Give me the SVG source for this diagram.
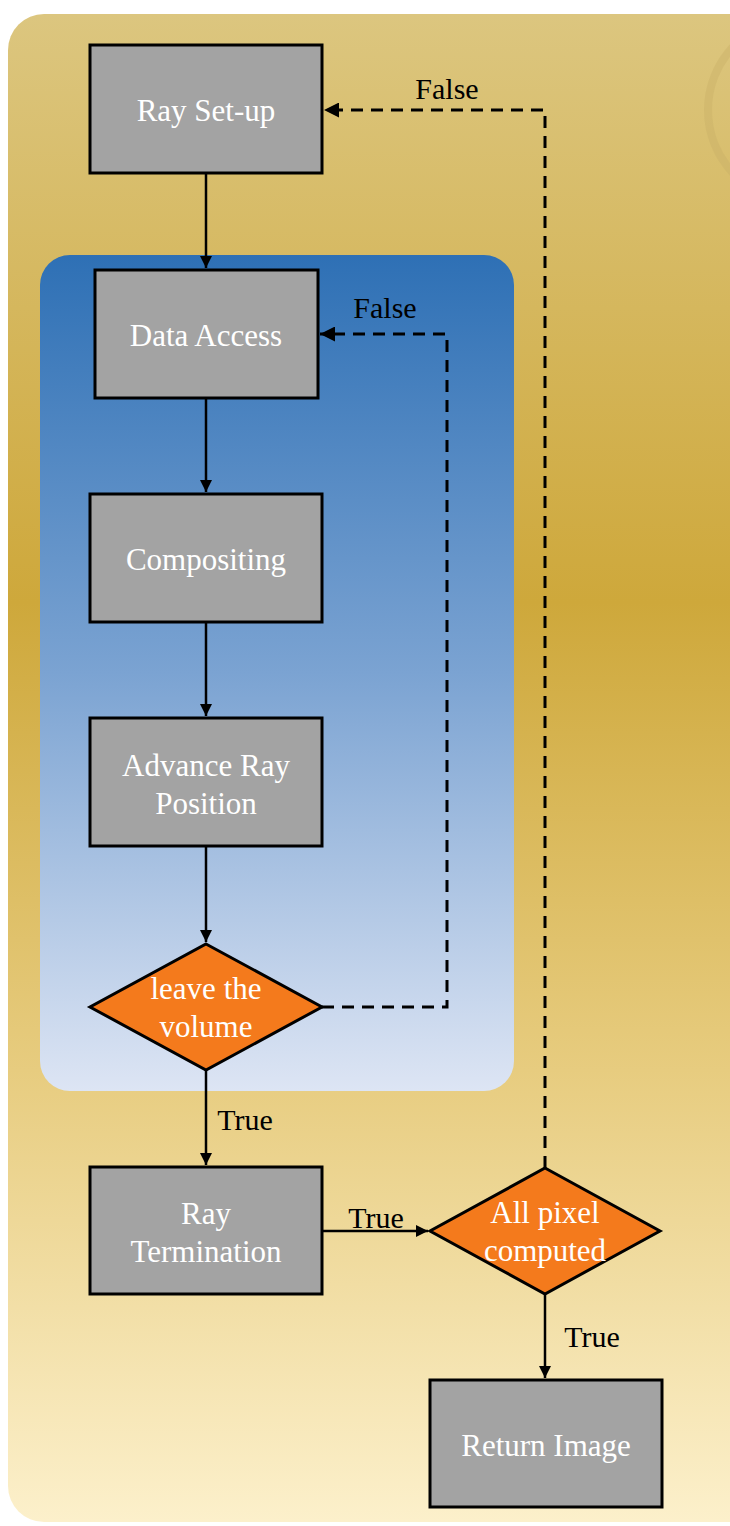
<svg xmlns="http://www.w3.org/2000/svg" width="730" height="1526" viewBox="0 0 730 1526">
<defs>
<linearGradient id="bg" x1="0" y1="0" x2="0" y2="1">
<stop offset="0" stop-color="#dcc67f"/>
<stop offset="0.39" stop-color="#cea83b"/>
<stop offset="0.7" stop-color="#e7cc7f"/>
<stop offset="1" stop-color="#fcf0cb"/>
</linearGradient>
<linearGradient id="panel" x1="0" y1="0" x2="0" y2="1">
<stop offset="0" stop-color="#2e70b5"/>
<stop offset="0.5" stop-color="#7ba3d2"/>
<stop offset="1" stop-color="#dde5f4"/>
</linearGradient>
<marker id="arr" viewBox="0 0 10 10" refX="10" refY="5" markerWidth="5" markerHeight="5" orient="auto" markerUnits="strokeWidth">
<path d="M0,0 L10,5 L0,10 z" fill="#000"/>
</marker>
<style>
.box{fill:#a3a3a3;stroke:#000;stroke-width:3}
.dia{fill:#f47a1c;stroke:#000;stroke-width:3}
.t{font-family:"Liberation Serif",serif;font-size:31px;fill:#fff;text-anchor:middle}
.lbl{font-family:"Liberation Serif",serif;font-size:30px;fill:#000;text-anchor:middle}
.c{fill:none;stroke:#000;stroke-width:2.5}
.d{fill:none;stroke:#000;stroke-width:3;stroke-dasharray:12 8}
</style>
</defs>
<rect x="0" y="0" width="730" height="1526" fill="#fff"/>
<rect x="8" y="14" width="760" height="1508" rx="36" fill="url(#bg)"/>
<circle cx="800" cy="110" r="92" fill="none" stroke="#c9b067" stroke-opacity="0.4" stroke-width="8"/>
<rect id="loop-panel" x="40" y="255" width="474" height="836" rx="30" fill="url(#panel)"/>
<g id="connectors">
<path class="c" d="M206,173 V268" marker-end="url(#arr)"/>
<path class="c" d="M206,398 V492" marker-end="url(#arr)"/>
<path class="c" d="M206,622 V716" marker-end="url(#arr)"/>
<path class="c" d="M206,846 V942" marker-end="url(#arr)"/>
<path class="c" d="M206,1070 V1165" marker-end="url(#arr)"/>
<path class="c" d="M322,1231 H428" marker-end="url(#arr)"/>
<path class="c" d="M545,1294 V1378" marker-end="url(#arr)"/>
<path class="d" d="M322,1007 H447 V334 H320" marker-end="url(#arr)"/>
<path class="d" d="M545,1168 V110 H324" marker-end="url(#arr)"/>
<text class="lbl" x="245" y="1130">True</text>
<text class="lbl" x="376" y="1228">True</text>
<text class="lbl" x="592" y="1347">True</text>
<text class="lbl" x="385" y="318">False</text>
<text class="lbl" x="447" y="99">False</text>
</g>
<g id="ray-setup"><rect class="box" x="90" y="45" width="232" height="128"/><text class="t" x="206" y="121">Ray Set-up</text></g>
<g id="data-access"><rect class="box" x="95" y="270" width="223" height="128"/><text class="t" x="206" y="346">Data Access</text></g>
<g id="compositing"><rect class="box" x="90" y="494" width="232" height="128"/><text class="t" x="206" y="570">Compositing</text></g>
<g id="advance-ray"><rect class="box" x="90" y="718" width="232" height="128"/><text class="t" x="206" y="776">Advance Ray</text><text class="t" x="206" y="814">Position</text></g>
<g id="leave-volume"><polygon class="dia" points="206,944 322,1007 206,1070 90,1007"/><text class="t" x="206" y="999">leave the</text><text class="t" x="206" y="1037">volume</text></g>
<g id="ray-termination"><rect class="box" x="90" y="1167" width="232" height="127"/><text class="t" x="206" y="1224">Ray</text><text class="t" x="206" y="1262">Termination</text></g>
<g id="all-pixel"><polygon class="dia" points="545,1168 660,1231 545,1294 430,1231"/><text class="t" x="545" y="1223">All pixel</text><text class="t" x="545" y="1261">computed</text></g>
<g id="return-image"><rect class="box" x="430" y="1380" width="232" height="127"/><text class="t" x="546" y="1456">Return Image</text></g>
</svg>
